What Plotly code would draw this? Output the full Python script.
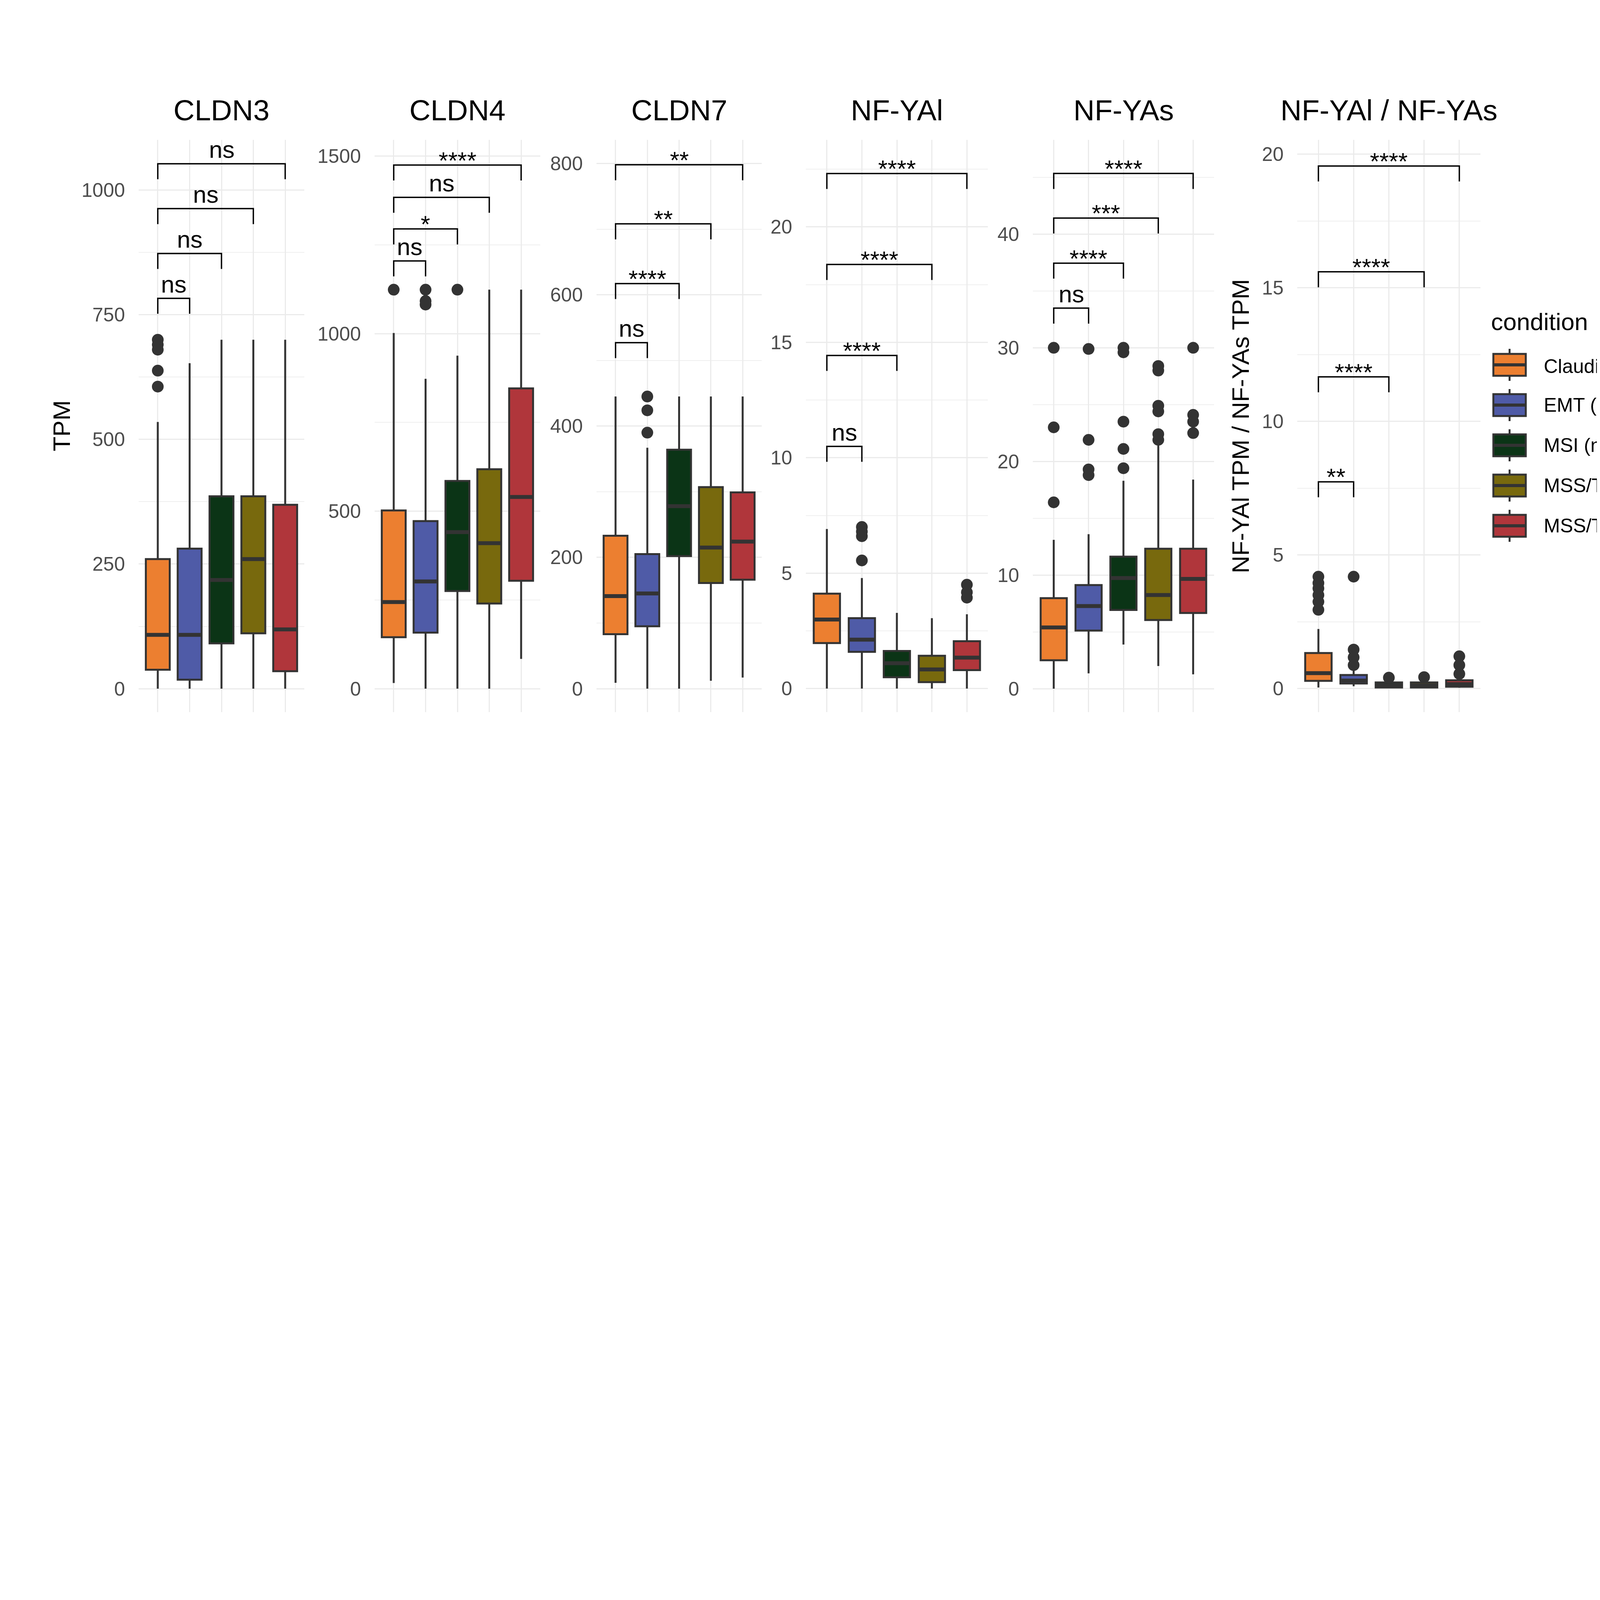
import plotly.graph_objects as go

W, H = 4500, 6500
FONT = "Liberation Sans, Arial, sans-serif"
EDGE = "#333333"

GROUPS = ["Claudin<sup>low</sup>(n=79)", "EMT (n=61)", "MSI (n=82)",
          "MSS/TP53- (n=104)", "MSS/TP53+ (n=73)"]
COLORS = ["#EC7F30", "#4F5BA7", "#0B3416", "#78690D", "#B0363B"]
PANELS = ["CLDN3", "CLDN4", "CLDN7", "NF-YAl", "NF-YAs", "NF-YAl / NF-YAs"]

# per group: [lower whisker, q1, median, q3, upper whisker]
CLDN3_BOX = [[0, 38, 108, 260, 535], [0, 18, 108, 281, 653], [0, 91, 218, 386, 700],
             [0, 111, 260, 386, 700], [0, 35, 119, 369, 700]]
CLDN3_OUT = [[700, 690, 680, 638, 606], [], [], [], []]
CLDN3_SIG = [(2, 783, "ns"), (3, 873, "ns"), (4, 963, "ns"), (5, 1053, "ns")]

CLDN4_BOX = [[16, 145, 244, 502, 1002], [0, 158, 302, 472, 873], [0, 275, 441, 585, 938],
             [0, 240, 410, 618, 1124], [84, 304, 540, 846, 1124]]
CLDN4_OUT = [[1124], [1124, 1092, 1082], [1124], [], []]
CLDN4_SIG = [(2, 1205, "ns"), (3, 1295, "*"), (4, 1384, "ns"), (5, 1475, "****")]

CLDN7_BOX = [[9, 83, 141, 233, 445], [0, 95, 145, 205, 367], [0, 202, 278, 364, 445],
             [12, 161, 215, 307, 445], [17, 166, 224, 299, 445]]
CLDN7_OUT = [[], [445, 424, 390], [], [], []]
CLDN7_SIG = [(2, 527, "ns"), (3, 617, "****"), (4, 708, "**"), (5, 798, "**")]

NFYAL_BOX = [[0, 1.97, 2.99, 4.11, 6.91], [0, 1.59, 2.12, 3.05, 4.79], [0, 0.49, 1.10, 1.63, 3.28],
             [0, 0.28, 0.83, 1.42, 3.05], [0, 0.80, 1.34, 2.05, 3.22]]
NFYAL_OUT = [[], [7.0, 6.8, 6.6, 5.55], [], [], [4.5, 4.17, 3.94]]
NFYAL_SIG = [(2, 10.49, "ns"), (3, 14.43, "****"), (4, 18.37, "****"), (5, 22.31, "****")]

NFYAS_BOX = [[0, 2.50, 5.39, 7.97, 13.1], [1.35, 5.12, 7.27, 9.12, 13.6], [3.89, 6.93, 9.74, 11.62, 18.3],
             [2.0, 6.04, 8.24, 12.32, 21.5], [1.27, 6.66, 9.66, 12.32, 18.4]]
NFYAS_OUT = [[30.0, 23.0, 16.4], [29.9, 21.9, 19.3, 18.8], [30.0, 29.6, 23.5, 21.1, 19.4],
             [28.4, 28.0, 24.9, 24.4, 22.4, 21.9], [30.0, 24.1, 23.5, 22.5]]
NFYAS_SIG = [(2, 33.49, "ns"), (3, 37.45, "****"), (4, 41.42, "***"), (5, 45.34, "****")]

RATIO_BOX = [[0.04, 0.29, 0.58, 1.33, 2.23], [0.09, 0.19, 0.30, 0.51, 0.70], [0.02, 0.04, 0.12, 0.23, 0.35],
             [0.02, 0.04, 0.12, 0.23, 0.35], [0.03, 0.07, 0.17, 0.31, 0.45]]
RATIO_OUT = [[4.19, 3.95, 3.75, 3.5, 3.25, 2.95], [4.19, 1.46, 1.17, 0.88], [0.41], [0.43],
             [1.21, 0.88, 0.55]]
RATIO_SIG = [(2, 7.74, "**"), (3, 11.67, "****"), (4, 15.6, "****"), (5, 19.56, "****")]

BOXES = [CLDN3_BOX, CLDN4_BOX, CLDN7_BOX, NFYAL_BOX, NFYAS_BOX, RATIO_BOX]
OUTS = [CLDN3_OUT, CLDN4_OUT, CLDN7_OUT, NFYAL_OUT, NFYAS_OUT, RATIO_OUT]
SIGS = [CLDN3_SIG, CLDN4_SIG, CLDN7_SIG, NFYAL_SIG, NFYAS_SIG, RATIO_SIG]

# layout (pixels)
PANEL_X = [(347, 771), (951, 1375), (1519, 1942), (2055, 2521), (2636, 3100), (3313, 3782)]
PANEL_TOP, PANEL_BOT = 350, 1815
Y_RANGES = [(-47, 1101), (-66, 1546), (-35.7, 836), (-1.02, 23.77), (-2.06, 48.3), (-0.88, 20.54)]
DTICK = [250, 500, 200, 5, 10, 5]


def px(x):
    return x / W


def py(y):
    return 1 - y / H


fig = go.Figure()
annotations = []
shapes = []

for p in range(len(PANELS)):
    xa = "x" if p == 0 else f"x{p + 1}"
    ya = "y" if p == 0 else f"y{p + 1}"
    for g in range(len(GROUPS)):
        low, q1, med, q3, high = BOXES[p][g]
        fig.add_trace(go.Box(
            x=[g + 1], q1=[q1], median=[med], q3=[q3], lowerfence=[low], upperfence=[high],
            width=0.75, fillcolor=COLORS[g], line=dict(color=EDGE, width=5),
            whiskerwidth=0, boxpoints=False, showlegend=False, hoverinfo="skip",
            xaxis=xa, yaxis=ya))
        # ggplot draws the median twice as thick as the box outline
        fig.add_trace(go.Scatter(
            x=[g + 1 - 0.375, g + 1 + 0.375], y=[med, med], mode="lines",
            line=dict(color=EDGE, width=10), showlegend=False, hoverinfo="skip",
            xaxis=xa, yaxis=ya))
        if OUTS[p][g]:
            fig.add_trace(go.Scatter(
                x=[g + 1] * len(OUTS[p][g]), y=OUTS[p][g], mode="markers",
                marker=dict(color=EDGE, size=30), showlegend=False, hoverinfo="skip",
                xaxis=xa, yaxis=ya))

    lo, hi = Y_RANGES[p]
    tip = 0.027 * (hi - lo)
    for target, yv, label in SIGS[p]:
        fig.add_trace(go.Scatter(
            x=[1, 1, target, target], y=[yv - tip, yv, yv, yv - tip], mode="lines",
            line=dict(color="black", width=3.5), showlegend=False, hoverinfo="skip",
            xaxis=xa, yaxis=ya))
        annotations.append(dict(
            x=(1 + target) / 2, y=yv, xref=xa, yref=ya, text=label, showarrow=False,
            xanchor="center", yanchor="bottom", yshift=0 if label == "ns" else -24,
            font=dict(size=62, color="black", family=FONT)))

    l, r = PANEL_X[p]
    fig.update_layout(**{
        ("xaxis" if p == 0 else f"xaxis{p + 1}"): dict(
            domain=[px(l), px(r)], range=[0.4, 5.6], tickvals=[1, 2, 3, 4, 5],
            showticklabels=False, showgrid=True, gridcolor="#EBEBEB", gridwidth=3,
            zeroline=False, showline=False, ticks="", anchor=ya),
        ("yaxis" if p == 0 else f"yaxis{p + 1}"): dict(
            domain=[py(PANEL_BOT), py(PANEL_TOP)], range=[lo, hi], tick0=0, dtick=DTICK[p],
            tickfont=dict(size=50, color="#4D4D4D", family=FONT),
            ticks="outside", ticklen=24, tickcolor="rgba(0,0,0,0)",
            showgrid=True, gridcolor="#EBEBEB", gridwidth=3, zeroline=False, showline=False,
            minor=dict(dtick=DTICK[p] / 2, tick0=0, showgrid=True, gridcolor="#EFEFEF",
                       gridwidth=1.6, ticks=""),
            anchor=xa),
    })
    annotations.append(dict(
        x=px((l + r) / 2), y=py(274), xref="paper", yref="paper", text=PANELS[p],
        showarrow=False, xanchor="center", yanchor="middle",
        font=dict(size=75, color="black", family=FONT)))

# y-axis titles
mid_y = py((PANEL_TOP + PANEL_BOT) / 2)
annotations.append(dict(x=px(149), y=mid_y, xref="paper", yref="paper", text="TPM",
                        textangle=-90, showarrow=False, xanchor="center", yanchor="middle",
                        font=dict(size=62, color="black", family=FONT)))
annotations.append(dict(x=px(3167), y=mid_y, xref="paper", yref="paper",
                        text="NF-YAl TPM / NF-YAs TPM", textangle=-90, showarrow=False,
                        xanchor="center", yanchor="middle",
                        font=dict(size=62, color="black", family=FONT)))

# legend drawn by hand so the keys keep the ggplot size
annotations.append(dict(x=px(3807), y=py(815), xref="paper", yref="paper", text="condition",
                        showarrow=False, xanchor="left", yanchor="middle",
                        font=dict(size=62, color="black", family=FONT)))
kx0, kx1 = 3815, 3898
kxm = (kx0 + kx1) / 2
for g in range(len(GROUPS)):
    c = 926 + g * 103
    shapes.append(dict(type="line", xref="paper", yref="paper", x0=px(kxm), x1=px(kxm),
                       y0=py(c - 41), y1=py(c + 41), line=dict(color=EDGE, width=5)))
    shapes.append(dict(type="rect", xref="paper", yref="paper", x0=px(kx0), x1=px(kx1),
                       y0=py(c + 28), y1=py(c - 28), fillcolor=COLORS[g],
                       line=dict(color=EDGE, width=5)))
    shapes.append(dict(type="line", xref="paper", yref="paper", x0=px(kx0), x1=px(kx1),
                       y0=py(c), y1=py(c), line=dict(color=EDGE, width=8)))
    annotations.append(dict(x=px(3942), y=py(c), xref="paper", yref="paper", text=GROUPS[g],
                            showarrow=False, xanchor="left", yanchor="middle",
                            font=dict(size=50, color="black", family=FONT)))

annotations.append(dict(x=px(3760), y=py(6460), xref="paper", yref="paper", text="Figure S1",
                        showarrow=False, xanchor="left", yanchor="bottom",
                        font=dict(size=146, color="black", family=FONT)))

fig.update_layout(
    width=W, height=H, margin=dict(l=0, r=0, t=0, b=0),
    paper_bgcolor="white", plot_bgcolor="white",
    showlegend=False, boxmode="overlay",
    annotations=annotations, shapes=shapes,
    font=dict(family=FONT),
)

fig.write_html("out.html")
